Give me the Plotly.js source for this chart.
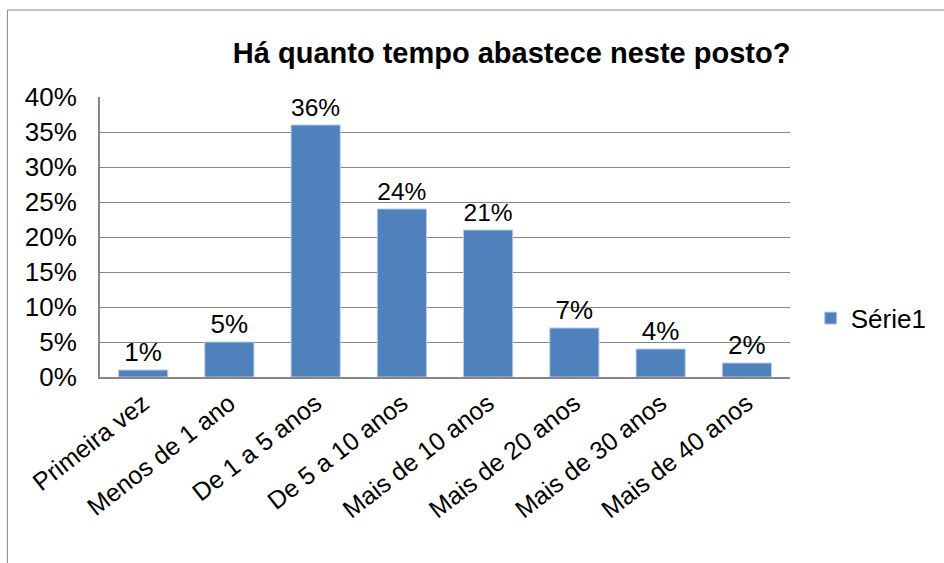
<!DOCTYPE html>
<html>
<head>
<meta charset="utf-8">
<script src="https://cdn.plot.ly/plotly-3.0.1.min.js"></script>
<style>
html,body{margin:0;padding:0;background:#fff;}
#chart{width:944px;height:563px;}
</style>
</head>
<body>
<div id="chart"></div>
<script>
var categories = ["Primeira vez", "Menos de 1 ano", "De 1 a 5 anos", "De 5 a 10 anos", "Mais de 10 anos", "Mais de 20 anos", "Mais de 30 anos", "Mais de 40 anos"];
var values = [0.01, 0.05, 0.36, 0.24, 0.21, 0.07, 0.04, 0.02];
var labels = ["1%", "5%", "36%", "24%", "21%", "7%", "4%", "2%"];
var seriesName = "Série1";
var titleText = "Há quanto tempo abastece neste posto?";

var font = "Liberation Sans, Arial, sans-serif";
var trace = {
  type: "bar",
  x: categories,
  y: values,
  name: seriesName,
  text: labels,
  textposition: "outside",
  cliponaxis: false,
  textfont: {family: font, size: 26, color: "#000"},
  marker: {color: "#4F81BD", line: {color: "#B9CDE5", width: 1}},
  showlegend: true,
  hoverinfo: "x+y"
};
var layout = {
  width: 944, height: 563,
  margin: {l: 100, r: 151, t: 97, b: 186},
  paper_bgcolor: "#fff", plot_bgcolor: "#fff",
  font: {family: font, size: 26, color: "#000"},
  title: {text: "<b>" + titleText + "</b>", font: {family: font, size: 29, color: "#000"},
          xref: "container", x: 0.542, xanchor: "center", yref: "container", y: 1 - 53/563, yanchor: "middle"},
  bargap: 0.43,
  xaxis: {type: "category", tickangle: -38, showline: true, linecolor: "#868686", linewidth: 2,
          showgrid: false, ticks: "", tickfont: {family: font, size: 25, color: "#000"}},
  yaxis: {range: [0, 0.4], dtick: 0.05, tickformat: ".0%", showline: true, linecolor: "#868686", linewidth: 2,
          showgrid: true, gridcolor: "#868686", gridwidth: 1, zeroline: false, ticks: "",
          ticklabelstandoff: 16, tickfont: {family: font, size: 26, color: "#000"}},
  legend: {x: 1.03, xanchor: "left", y: 0.21, yanchor: "middle", font: {family: font, size: 26, color: "#000"},
           bgcolor: "rgba(0,0,0,0)"},
  shapes: [{type: "rect", xref: "paper", yref: "paper",
            x0: (7-100)/693, x1: (960-100)/693, y0: (377-580)/280, y1: (377-10)/280,
            line: {color: "#888888", width: 1}, fillcolor: "rgba(0,0,0,0)", layer: "below"}]
};
Plotly.newPlot("chart", [trace], layout, {displayModeBar: false, staticPlot: true});
</script>
</body>
</html>
